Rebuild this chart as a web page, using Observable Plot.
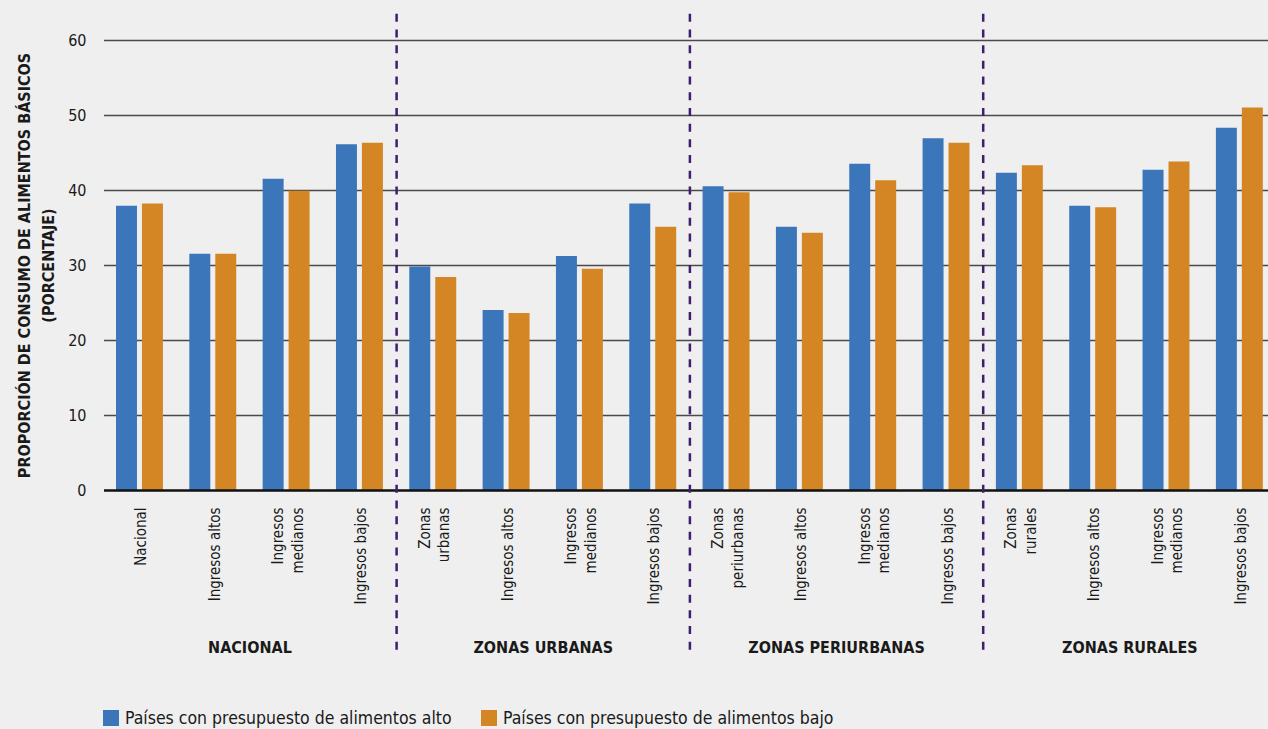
<!DOCTYPE html>
<html>
<head>
<meta charset="utf-8">
<script src="https://cdn.jsdelivr.net/npm/d3@7"></script>
<script src="https://cdn.jsdelivr.net/npm/@observablehq/plot@0.6"></script>
<style>
  html, body { margin: 0; padding: 0; background: #efefef; }
  body { width: 1268px; height: 729px; position: relative; overflow: hidden;
         font-family: "Liberation Sans Narrow", "DejaVu Sans Condensed", "Roboto", sans-serif; color: #1a1a1a; }
  #legend { position: absolute; left: 103px; top: 708px; display: flex; }
  .item { display: flex; align-items: center; width: 378px; height: 20px; font-size: 17.5px; line-height: 20px; white-space: nowrap; }
  .sw { width: 16px; height: 16px; margin-right: 6px; flex: none; }
</style>
</head>
<body>
<div id="chart"></div>
<div id="legend"></div>
<script>
// ---- data ----
const groups = ["NACIONAL", "ZONAS URBANAS", "ZONAS PERIURBANAS", "ZONAS RURALES"];
const subLabels = [
  "Nacional", "Ingresos altos", "Ingresos\nmedianos", "Ingresos bajos",
  "Zonas\nurbanas", "Ingresos altos", "Ingresos\nmedianos", "Ingresos bajos",
  "Zonas\nperiurbanas", "Ingresos altos", "Ingresos\nmedianos", "Ingresos bajos",
  "Zonas\nrurales", "Ingresos altos", "Ingresos\nmedianos", "Ingresos bajos"
];
const seriesNames = ["Países con presupuesto de alimentos alto", "Países con presupuesto de alimentos bajo"];
const highBudget = [37.9, 31.5, 41.5, 46.1, 29.8, 24.0, 31.2, 38.2, 40.5, 35.1, 43.5, 46.9, 42.3, 37.9, 42.7, 48.3];
const lowBudget  = [38.2, 31.5, 39.9, 46.3, 28.4, 23.6, 29.5, 35.1, 39.7, 34.3, 41.3, 46.3, 43.3, 37.7, 43.8, 51.0];
const yTicks = [0, 10, 20, 30, 40, 50, 60];
const yTitle = "PROPORCIÓN DE CONSUMO DE ALIMENTOS BÁSICOS\n(PORCENTAJE)";
const colors = ["#3b76ba", "#d48624"];

// ---- derived tables ----
const perGroup = subLabels.length / groups.length;
const cats = subLabels.map((label, i) => ({ i, label }));
const half = 0.32, gap = 0.034;
const bars = [];
subLabels.forEach((label, i) => {
  bars.push({ x1: i - half, x2: i - gap, value: highBudget[i], series: seriesNames[0] });
  bars.push({ x1: i + gap, x2: i + half, value: lowBudget[i], series: seriesNames[1] });
});
const groupRows = groups.map((g, k) => ({ g, x: k * perGroup + (perGroup - 1) / 2 }));
const dividers = groups.slice(1).map((g, k) => (k + 1) * perGroup - 0.5);

const font = '"Liberation Sans Narrow", "DejaVu Sans Condensed", Roboto, sans-serif';

const chart = Plot.plot({
  width: 1268,
  height: 680,
  marginLeft: 104,
  marginRight: 0,
  marginTop: 40,
  marginBottom: 190,
  style: { background: "transparent", fontFamily: font, color: "#1a1a1a" },
  x: { type: "linear", domain: [-0.5, subLabels.length - 0.5], range: [102.8, 1276], axis: null },
  y: { domain: [0, 60] },
  color: { domain: seriesNames, range: colors },
  marks: [
    Plot.ruleY(yTicks.filter(d => d > 0), { stroke: "#4a4a4a", strokeWidth: 1.3 }),
    Plot.rectY(bars, { x1: "x1", x2: "x2", y: "value", fill: "series" }),
    Plot.ruleY([0], { stroke: "#111", strokeWidth: 2.6 }),
    Plot.ruleX(dividers, { y1: 63.5, y2: -22, stroke: "#3d1f6e", strokeWidth: 2.5, strokeDasharray: "8,7.7" }),
    Plot.axisY({ ticks: yTicks, tickSize: 0, tickPadding: 18, fontSize: 16, label: null }),
    Plot.text(cats, { x: "i", y: 0, text: "label", rotate: -90, textAnchor: "end", dy: 17, fontSize: 15, lineHeight: 1.3, fill: "#1a1a1a" }),
    Plot.text(groupRows, { x: "x", y: 0, text: "g", dy: 157, fontSize: 16, fontWeight: "bold", fill: "#1a1a1a" }),
    Plot.text([yTitle], { frameAnchor: "left", textAnchor: "middle", rotate: -90, dx: -70.5, fontSize: 16, fontWeight: "bold", lineHeight: 1.53, fill: "#1a1a1a" })
  ]
});
document.getElementById("chart").appendChild(chart);

const legend = document.getElementById("legend");
seriesNames.forEach((name, k) => {
  const item = document.createElement("div");
  item.className = "item";
  const sw = document.createElement("span");
  sw.className = "sw";
  sw.style.background = colors[k];
  const t = document.createElement("span");
  t.textContent = name;
  item.appendChild(sw);
  item.appendChild(t);
  legend.appendChild(item);
});
</script>
</body>
</html>
